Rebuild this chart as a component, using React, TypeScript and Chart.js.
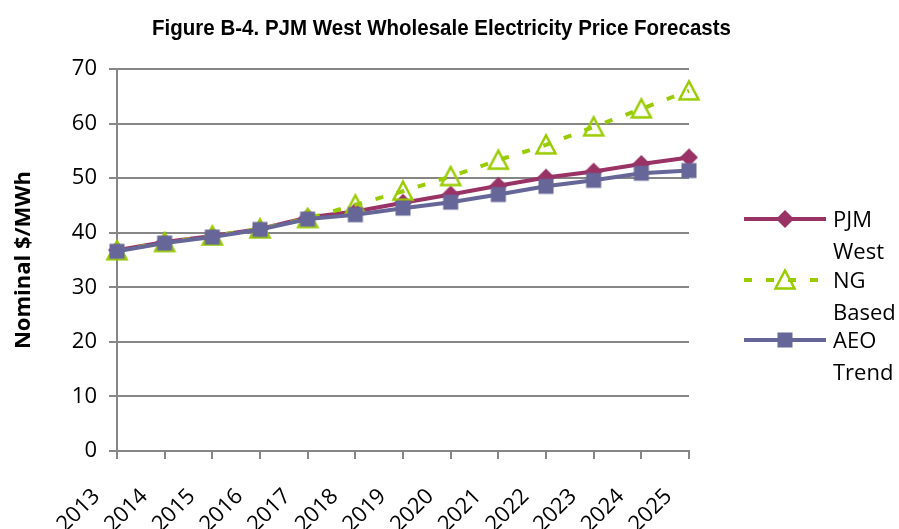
import React, { useEffect, useRef } from 'react';
import { Chart, registerables } from 'chart.js';

Chart.register(...registerables);

const years = ['2013', '2014', '2015', '2016', '2017', '2018', '2019', '2020', '2021', '2022', '2023', '2024', '2025'];
const pjmWest = [36.8, 38.3, 39.4, 40.7, 42.8, 43.9, 45.5, 47.0, 48.6, 50.1, 51.2, 52.6, 53.8];
const ngBased = [36.7, 38.2, 39.4, 40.7, 42.6, 45.1, 47.6, 50.3, 53.3, 56.1, 59.4, 62.7, 66.0];
const aeoTrend = [36.6, 38.1, 39.2, 40.6, 42.5, 43.3, 44.5, 45.6, 47.0, 48.5, 49.6, 50.9, 51.4];
const yMin = 0;
const yMax = 70;
const yStep = 10;
const titleText = 'Figure B-4. PJM West Wholesale Electricity Price Forecasts';
const yAxisTitle = 'Nominal $/MWh';
const seriesNames = ['PJM West', 'NG Based', 'AEO Trend'];
const legendLines = [['PJM', 'West'], ['NG', 'Based'], ['AEO', 'Trend']];

const PJM_COLOR = '#993366';
const NG_COLOR = '#99CC00';
const AEO_COLOR = '#666699';
const GRID = '#868686';
const FONT = '"Open Sans", "Noto Sans", sans-serif';
const TITLE_FONT = '"Liberation Sans", Arial, sans-serif';

function makeMarker(kind: string, color: string): HTMLCanvasElement {
  const c = document.createElement('canvas');
  c.width = 24;
  c.height = 24;
  const g = c.getContext('2d')!;
  g.fillStyle = color;
  g.strokeStyle = color;
  if (kind === 'diamond') {
    g.beginPath();
    g.moveTo(12, 3);
    g.lineTo(21, 12);
    g.lineTo(12, 21);
    g.lineTo(3, 12);
    g.closePath();
    g.fill();
  } else if (kind === 'square') {
    g.fillRect(4.5, 4.5, 15, 15);
  } else {
    g.lineWidth = 2.5;
    g.beginPath();
    g.moveTo(12, 2.5);
    g.lineTo(21.5, 20.5);
    g.lineTo(2.5, 20.5);
    g.closePath();
    g.stroke();
  }
  return c;
}

export default function App() {
  const ref = useRef<HTMLCanvasElement | null>(null);

  useEffect(() => {
    document.body.style.margin = '0';
    const canvas = ref.current!;
    const markers = [
      makeMarker('diamond', PJM_COLOR),
      makeMarker('triangle', NG_COLOR),
      makeMarker('square', AEO_COLOR),
    ];
    const colors = [PJM_COLOR, NG_COLOR, AEO_COLOR];
    const dashes = [[], [8, 14], []];

    const decorations = {
      id: 'decorations',
      beforeDraw(chart: any) {
        const ctx = chart.ctx;
        ctx.save();
        ctx.fillStyle = '#ffffff';
        ctx.fillRect(0, 0, chart.width, chart.height);
        ctx.restore();
      },
      afterDraw(chart: any) {
        const ctx = chart.ctx;
        ctx.save();
        ctx.fillStyle = '#000000';
        ctx.font = 'bold 22px ' + TITLE_FONT;
        ctx.textAlign = 'left';
        ctx.textBaseline = 'alphabetic';
        const w = ctx.measureText(titleText).width;
        const targetW = 579;
        const sx = targetW / w;
        ctx.translate(152, 35);
        ctx.scale(sx, 1);
        ctx.fillText(titleText, 0, 0);
        ctx.restore();

        ctx.save();
        const lineYs = [219, 280, 340];
        for (let i = 0; i < 3; i++) {
          const y = lineYs[i];
          ctx.strokeStyle = colors[i];
          ctx.lineWidth = 4;
          ctx.setLineDash(dashes[i]);
          ctx.beginPath();
          ctx.moveTo(744, y);
          ctx.lineTo(826, y);
          ctx.stroke();
          ctx.setLineDash([]);
          ctx.drawImage(markers[i], 785 - 12, y - 12);
          ctx.fillStyle = '#000000';
          ctx.font = '22px ' + FONT;
          ctx.textAlign = 'left';
          ctx.fillText(legendLines[i][0], 833, y + 8);
          ctx.fillText(legendLines[i][1], 833, y + 39.5);
        }
        ctx.restore();
      },
    };

    const chart = new Chart(canvas, {
      type: 'line',
      data: {
        labels: years,
        datasets: [
          {
            label: seriesNames[0],
            data: pjmWest,
            borderColor: PJM_COLOR,
            backgroundColor: PJM_COLOR,
            borderWidth: 4,
            pointStyle: markers[0] as any,
            pointRadius: 10,
            order: 2,
            clip: false as any,
          },
          {
            label: seriesNames[1],
            data: ngBased,
            borderColor: NG_COLOR,
            backgroundColor: NG_COLOR,
            borderWidth: 4,
            borderDash: [8, 14],
            pointStyle: markers[1] as any,
            pointRadius: 10,
            order: 1,
            clip: false as any,
          },
          {
            label: seriesNames[2],
            data: aeoTrend,
            borderColor: AEO_COLOR,
            backgroundColor: AEO_COLOR,
            borderWidth: 4,
            pointStyle: markers[2] as any,
            pointRadius: 10,
            order: 0,
            clip: false as any,
          },
        ],
      },
      options: {
        responsive: false,
        animation: false,
        devicePixelRatio: 1,
        layout: { padding: { top: 69, right: 210, left: 0, bottom: 0 } },
        plugins: {
          legend: { display: false },
          title: { display: false },
          tooltip: { enabled: false },
        },
        scales: {
          x: {
            type: 'category',
            offset: false,
            afterFit: (s: any) => {
              s.height = 78;
            },
            grid: {
              display: true,
              drawOnChartArea: false,
              drawTicks: true,
              tickLength: 8,
              color: GRID,
              lineWidth: 2,
            },
            border: { display: true, color: GRID, width: 2 },
            ticks: {
              minRotation: 45,
              maxRotation: 45,
              autoSkip: false,
              padding: 24.5,
              labelOffset: -20.5,
              color: '#000000',
              font: { family: FONT, size: 22 },
            },
          },
          y: {
            min: yMin,
            max: yMax,
            afterFit: (s: any) => {
              s.width = 117;
            },
            grid: {
              color: GRID,
              lineWidth: 2,
              drawTicks: true,
              tickLength: 8,
            },
            border: { display: true, color: GRID, width: 2 },
            ticks: {
              stepSize: yStep,
              padding: 12,
              color: '#000000',
              font: { family: FONT, size: 22 },
            },
            title: {
              display: true,
              text: yAxisTitle,
              color: '#000000',
              font: { family: FONT, size: 22, weight: 'bold' },
              padding: { top: 11, bottom: 0 },
            },
          },
        },
      },
      plugins: [decorations],
    });

    return () => {
      chart.destroy();
    };
  }, []);

  return (
    <div style={{ position: 'fixed', left: 0, top: 0, width: 899, height: 529 }}>
      <canvas ref={ref} width={899} height={529} style={{ width: 899, height: 529 }} />
    </div>
  );
}
